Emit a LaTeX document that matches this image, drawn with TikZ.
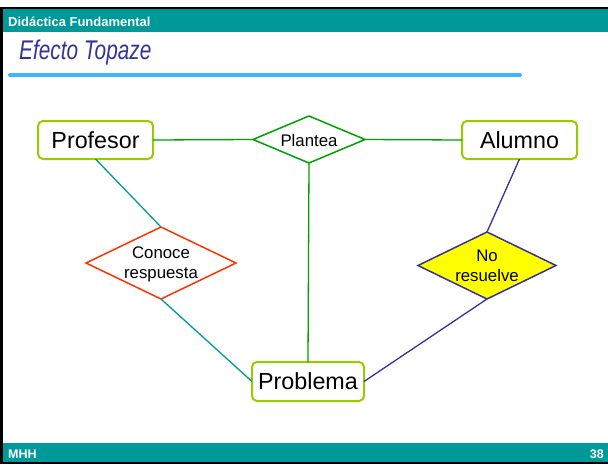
\documentclass[tikz,border=0pt]{standalone}
\usepackage{fontspec}
\setmainfont{Liberation Sans}
\newfontfamily\narrowsans[FakeStretch=0.77]{Liberation Sans}
\usetikzlibrary{shapes.geometric}
\definecolor{barteal}{HTML}{009999}
\definecolor{titleblue}{HTML}{333399}
\definecolor{rulesky}{HTML}{40B4FF}
\definecolor{boxlime}{HTML}{99CC00}
\definecolor{linkgreen}{HTML}{00A000}
\definecolor{linkteal}{HTML}{009999}
\definecolor{linknavy}{HTML}{333399}
\definecolor{warnred}{HTML}{FF3300}
\definecolor{warnyellow}{HTML}{FFFF00}
\begin{document}
\begin{tikzpicture}[x=1pt,y=-1pt,
  entity/.style={draw=boxlime, line width=2pt, rounded corners=5pt, fill=white,
    minimum width=115pt, minimum height=38pt, inner sep=0pt, outer sep=0pt,
    font=\fontsize{23.3}{28}\selectfont},
  relation/.style={diamond, line width=1.5pt, inner sep=0pt, outer sep=0pt},
  reltext/.style={align=center, inner sep=0pt, font=\fontsize{16.8}{20}\selectfont},
  link/.style={line width=1.3pt},
  bartext/.style={text=white, inner sep=0pt, font=\bfseries\fontsize{13}{16}\selectfont}
]
\useasboundingbox (0,0) rectangle (608,464);
\fill[white] (0,0) rectangle (608,464);

% header and footer bands
\fill[barteal] (0,9) rectangle (608,32);
\fill[barteal] (0,443) rectangle (608,462);
% frame
\fill[black] (0,7) rectangle (608,9);
\fill[black] (0,7) rectangle (3,464);
\fill[black] (0,462) rectangle (608,464);

\node[bartext, anchor=base west] (course) at (8,26) {Didáctica Fundamental};
\node[bartext, anchor=base west, font=\bfseries\fontsize{12.5}{15}\selectfont] (author) at (8,458) {MHH};
\node[bartext, anchor=base east, font=\bfseries\fontsize{12.5}{15}\selectfont] (page) at (604,458) {38};

% slide title and rule
\node[anchor=base west, inner sep=0pt, text=titleblue,
  font=\narrowsans\itshape\fontsize{27}{32}\selectfont] (title) at (19,59) {Efecto Topaze};
\coordinate (ruleL) at (10,75);
\coordinate (ruleR) at (520,75);
\draw[rulesky, line width=4pt, line cap=round] (ruleL) -- (ruleR);

% entities
\node[entity] (prof) at (95.5,140) {Profesor};
\node[entity] (alum) at (519.5,140) {Alumno};
\node[entity, minimum width=112pt, minimum height=39pt] (prob) at (308,381.5) {Problema};

% relations
\node[relation, draw=linkgreen, fill=white, minimum width=112pt, minimum height=47pt] (plan) at (309,139.5) {};
\node[reltext] (planT) at (309,140) {Plantea};
\node[relation, draw=warnred, fill=white, minimum width=150pt, minimum height=72pt] (cono) at (161,263) {};
\node[reltext] (conoT) at (161,264) {Conoce\\respuesta};
\node[relation, draw=linknavy, fill=warnyellow, minimum width=138pt, minimum height=67pt] (nore) at (487,265.5) {};
\node[reltext] (noreT) at (487,266) {No\\resuelve};

% connectors
\draw[link, linkgreen] (prof.east) -- (plan.west);
\draw[link, linkgreen] (plan.east) -- (alum.west);
\draw[link, linkgreen] (plan.south) -- (prob.north);
\draw[link, linkteal] (prof.south) -- (cono.north);
\draw[link, linkteal] (cono.south) -- (prob.west);
\draw[link, linknavy] (alum.south) -- (nore.north);
\draw[link, linknavy] (nore.south) -- (prob.east);
\end{tikzpicture}
\end{document}
